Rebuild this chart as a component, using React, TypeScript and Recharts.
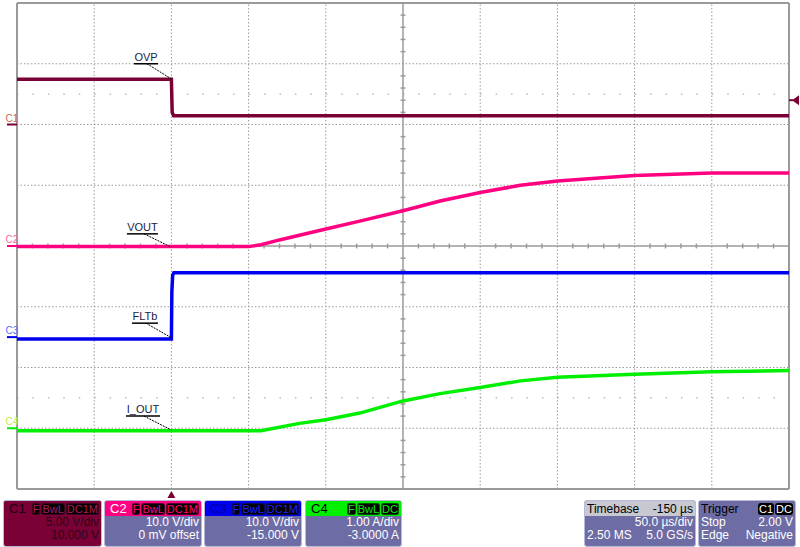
import React from "react";
import { LineChart, Line, XAxis, YAxis, ReferenceLine, ReferenceDot } from "recharts";

// time in µs relative to the trigger point (50 µs/div)
const ovpTime = [-100, 0, 0.5, 1.5, 400];
const ovpVolts = [3.72, 3.72, 1.0, 0.72, 0.72];

const voutTime = [-100, 50, 58, 70, 100, 122, 150, 174, 200, 226, 250, 277, 300, 350, 400];
const voutVolts = [-0.1, -0.1, 0.2, 1.0, 2.8, 4.1, 5.8, 7.4, 8.8, 10.0, 10.7, 11.2, 11.6, 12.0, 12.0];

const fltbTime = [-100, 0, 0.3, 0.8, 1.6, 400];
const fltbVolts = [-0.3, -0.3, 7.5, 10.2, 10.6, 10.6];

const ioutTime = [-100, 58, 83, 100, 122, 150, 174, 200, 226, 250, 300, 350, 400];
const ioutAmps = [-0.04, -0.04, 0.08, 0.14, 0.25, 0.45, 0.57, 0.67, 0.78, 0.84, 0.89, 0.93, 0.95];

const timeLines = [-50, 0, 50, 100, 200, 250, 300, 350];
const divLines = [-3, -2, -1, 1, 2, 3];

const zip = (t: number[], v: number[]) => t.map((x, i) => ({ t: x, v: v[i] }));

const GRID = "#9a9a9a";
const FONT = "'Liberation Sans', Arial, sans-serif";
const SLATE = "#6e6ca4";

// channel vertical settings: volts (or amps) per div and the value at screen centre
const channels = [
  { id: "c1", name: "C1", perDiv: 5, center: -10, color: "#7a0035", tagColor: "#c86450", data: zip(ovpTime, ovpVolts) },
  { id: "c2", name: "C2", perDiv: 10, center: 0, color: "#ff0080", tagColor: "#ff6699", data: zip(voutTime, voutVolts) },
  { id: "c3", name: "C3", perDiv: 10, center: 15, color: "#0000f0", tagColor: "#6666ff", data: zip(fltbTime, fltbVolts) },
  { id: "c4", name: "C4", perDiv: 1, center: 3, color: "#00ee00", tagColor: "#b8f040", data: zip(ioutTime, ioutAmps) },
];

// trace annotations, in div units / µs
const notes = [
  { text: "OVP", x1: -24.2, x2: -8.7, y: 3.0, lx: -15.8, ey: 2.75 },
  { text: "VOUT", x1: -28.8, x2: -8.7, y: 0.2, lx: -17.7, ey: -0.02 },
  { text: "FLTb", x1: -25.5, x2: -8.7, y: -1.27, lx: -16.5, ey: -1.51 },
  { text: "I_OUT", x1: -29.4, x2: -7.4, y: -2.8, lx: -17.7, ey: -3.03 },
];

const minorT: number[] = [];
for (let t = -90; t < 400; t += 10) if (t % 50 !== 0) minorT.push(t);
const minorY: number[] = [];
for (let d = -3.8; d < 4; d += 0.2) if (Math.abs(d - Math.round(d)) > 0.01) minorY.push(+d.toFixed(1));

function Tag({ text, color, bg = "#000" }: { text: string; color: string; bg?: string }) {
  return (
    <span
      style={{
        background: bg,
        color,
        borderRadius: 3,
        padding: "0 1px",
        marginLeft: 1,
        height: 12,
        lineHeight: "12px",
        fontSize: 11,
        display: "inline-block",
        whiteSpace: "nowrap",
        boxShadow: `inset 0 0 0 1px ${color}55`,
      }}
    >
      {text}
    </span>
  );
}

function Box(props: {
  left: number;
  width: number;
  headBg: string;
  bodyBg?: string;
  textColor?: string;
  head: React.ReactNode;
  rows: [string, string][];
}) {
  const { left, width, headBg, bodyBg = SLATE, textColor = "#fff", head, rows } = props;
  return (
    <div
      style={{
        position: "absolute",
        left,
        top: 500,
        width,
        height: 45,
        background: bodyBg,
        border: "1px solid #b8b8d8",
        borderRadius: 3,
        overflow: "hidden",
        fontFamily: FONT,
        fontSize: 12,
        color: textColor,
      }}
    >
      <div style={{ background: headBg, height: 15, display: "flex", alignItems: "center", padding: "0 2px", whiteSpace: "nowrap" }}>
        {head}
      </div>
      {rows.map(([l, r], i) => (
        <div key={i} style={{ display: "flex", justifyContent: "space-between", padding: "0 2px", lineHeight: "13px", height: 13 }}>
          <span>{l}</span>
          <span>{r}</span>
        </div>
      ))}
    </div>
  );
}

function ChanHead(props: { name: string; nameColor: string; tagColor: string; gap: number; last?: string }) {
  const { name, nameColor, tagColor, gap, last = "DC1M" } = props;
  return (
    <>
      <span style={{ color: nameColor, fontSize: 13, width: gap, display: "inline-block", paddingLeft: 3 }}>{name}</span>
      <Tag text="F" color={tagColor} />
      <Tag text="BwL" color={tagColor} />
      <Tag text={last} color={tagColor} />
    </>
  );
}

export default function App() {
  return (
    <div style={{ position: "absolute", left: 0, top: 0, width: 800, height: 547, background: "#fff" }}>
      <LineChart width={800} height={547} margin={{ top: 3, right: 11, left: 17, bottom: 58 }}>
        <XAxis type="number" dataKey="t" domain={[-100, 400]} allowDataOverflow hide />
        {channels.map((c) => (
          <YAxis
            key={c.id}
            yAxisId={c.id}
            type="number"
            domain={[c.center - 4 * c.perDiv, c.center + 4 * c.perDiv]}
            allowDataOverflow
            hide
          />
        ))}
        <YAxis yAxisId="div" type="number" domain={[-4, 4]} allowDataOverflow hide />

        {timeLines.map((t) => (
          <ReferenceLine key={"vt" + t} x={t} yAxisId="div" stroke={GRID} strokeDasharray="1.5 2" />
        ))}
        {divLines.map((d) => (
          <ReferenceLine key={"hd" + d} y={d} yAxisId="div" stroke={GRID} strokeDasharray="1.5 2" />
        ))}
        {[-2.5, 2.5].map((d) => (
          <ReferenceLine key={"sp" + d} y={d} yAxisId="div" stroke={GRID} strokeDasharray="1.5 13.94" />
        ))}
        <ReferenceLine x={150} yAxisId="div" stroke={GRID} strokeWidth={1.5} />
        <ReferenceLine y={0} yAxisId="div" stroke={GRID} strokeWidth={1.5} />
        {minorT.map((t) => (
          <ReferenceLine key={"mt" + t} yAxisId="div" segment={[{ x: t, y: -0.04 }, { x: t, y: 0.04 }]} stroke={GRID} strokeWidth={1.5} />
        ))}
        {minorY.map((d) => (
          <ReferenceLine key={"my" + d} yAxisId="div" segment={[{ x: 148.4, y: d }, { x: 151.6, y: d }]} stroke={GRID} strokeWidth={1.5} />
        ))}
        <ReferenceLine x={-100} yAxisId="div" stroke={GRID} strokeWidth={2} />
        <ReferenceLine x={400} yAxisId="div" stroke={GRID} strokeWidth={2} />
        <ReferenceLine y={-4} yAxisId="div" stroke={GRID} strokeWidth={2} />
        <ReferenceLine y={4} yAxisId="div" stroke={GRID} strokeWidth={2} />

        {channels.map((c) => (
          <Line
            key={c.id}
            yAxisId={c.id}
            data={c.data}
            dataKey="v"
            type="linear"
            stroke={c.color}
            strokeWidth={3.5}
            dot={false}
            isAnimationActive={false}
          />
        ))}

        {channels.map((c) => (
          <ReferenceLine
            key={"gnd" + c.id}
            yAxisId={c.id}
            ifOverflow="visible"
            segment={[{ x: -106.5, y: 0 }, { x: -100, y: 0 }]}
            stroke={c.color}
            strokeWidth={2}
            label={{ value: c.name, position: "top", offset: 3, fill: c.tagColor, fontSize: 10, fontFamily: FONT }}
          />
        ))}

        {notes.map((n) => (
          <ReferenceLine
            key={"ul" + n.text}
            yAxisId="div"
            segment={[{ x: n.x1, y: n.y }, { x: n.x2, y: n.y }]}
            stroke="#000"
            strokeWidth={1.5}
          />
        ))}
        {notes.map((n) => (
          <ReferenceLine
            key={"ld" + n.text}
            yAxisId="div"
            segment={[{ x: n.lx, y: n.y }, { x: 0, y: n.ey }]}
            stroke="#000"
            strokeWidth={1}
            strokeDasharray="2 1"
          />
        ))}
        {notes.map((n) => (
          <ReferenceDot
            key={"tx" + n.text}
            yAxisId="div"
            x={(n.x1 + n.x2) / 2}
            y={n.y}
            r={0}
            stroke="none"
            fill="none"
            label={{ value: n.text, position: "top", offset: 3, fill: "#1c1c44", fontSize: 11, fontFamily: FONT }}
          />
        ))}

        <ReferenceDot
          yAxisId="c1"
          x={400}
          y={2}
          ifOverflow="visible"
          shape={(p: any) => (
            <g fill="#7a0035" stroke="#7a0035">
              <line x1={p.cx} y1={p.cy} x2={p.cx + 4} y2={p.cy} strokeWidth={2} />
              <path d={`M${p.cx + 3},${p.cy} L${p.cx + 10},${p.cy - 5} L${p.cx + 10},${p.cy + 5} Z`} strokeWidth={0} />
            </g>
          )}
        />
        <ReferenceDot
          yAxisId="div"
          x={0}
          y={-4}
          ifOverflow="visible"
          shape={(p: any) => (
            <path d={`M${p.cx},${p.cy + 2} L${p.cx - 4},${p.cy + 9} L${p.cx + 4},${p.cy + 9} Z`} fill="#7a0035" />
          )}
        />
      </LineChart>

      <Box
        left={3}
        width={97}
        headBg="#7a0035"
        bodyBg="#7a0035"
        textColor="#2a0814"
        head={<ChanHead name="C1" nameColor="#1a0008" tagColor="#b01860" gap={25} />}
        rows={[["", "5.00 V/div"], ["", "10.000 V"]]}
      />
      <Box
        left={104}
        width={96}
        headBg="#ff0080"
        head={<ChanHead name="C2" nameColor="#fff" tagColor="#ff0080" gap={23} />}
        rows={[["", "10.0 V/div"], ["", "0 mV offset"]]}
      />
      <Box
        left={204}
        width={96}
        headBg="#0000f0"
        head={<ChanHead name="C3" nameColor="#00009a" tagColor="#2020ff" gap={23} />}
        rows={[["", "10.0 V/div"], ["", "-15.000 V"]]}
      />
      <Box
        left={305}
        width={95}
        headBg="#00ee00"
        head={<ChanHead name="C4" nameColor="#000" tagColor="#00ee00" gap={36} last="DC" />}
        rows={[["", "1.00 A/div"], ["", "-3.0000 A"]]}
      />
      <Box
        left={584}
        width={110}
        headBg="#c8c8d0"
        head={
          <div style={{ display: "flex", justifyContent: "space-between", width: "100%", color: "#000" }}>
            <span>Timebase</span>
            <span>-150 µs</span>
          </div>
        }
        rows={[["", "50.0 µs/div"], ["2.50 MS", "5.0 GS/s"]]}
      />
      <Box
        left={698}
        width={96}
        headBg={SLATE}
        head={
          <div style={{ display: "flex", justifyContent: "space-between", width: "100%", color: "#000" }}>
            <span>Trigger</span>
            <span>
              <Tag text="C1" color="#fff" />
              <Tag text="DC" color="#fff" />
            </span>
          </div>
        }
        rows={[["Stop", "2.00 V"], ["Edge", "Negative"]]}
      />
    </div>
  );
}
